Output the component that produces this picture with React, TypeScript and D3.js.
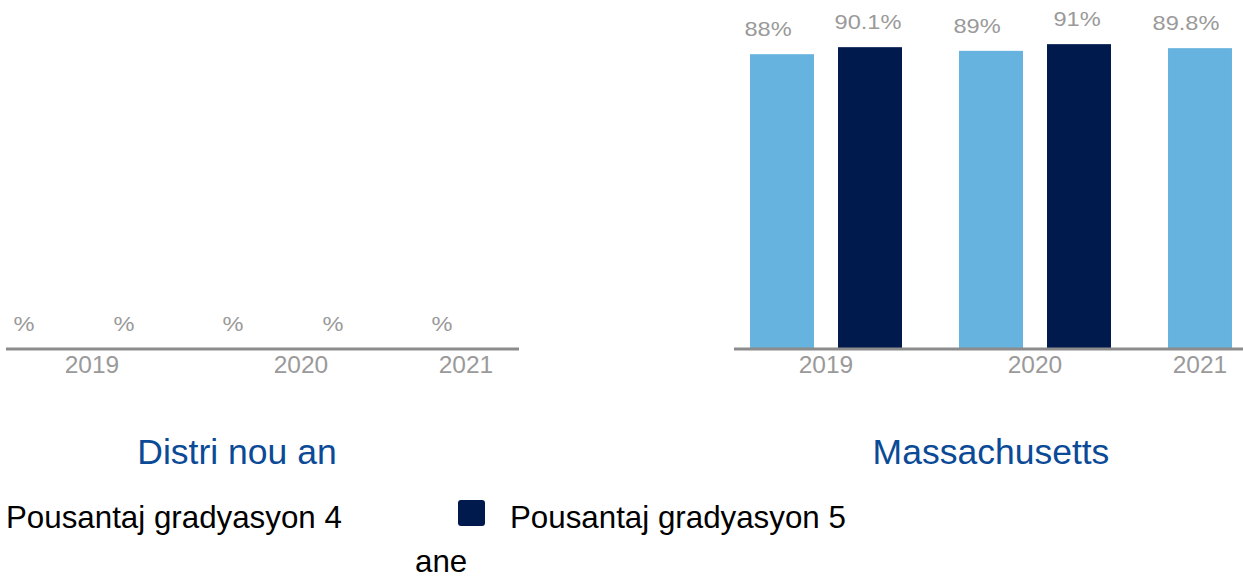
import * as d3 from "d3";

const years = ["2019", "2020", "2021"];
const seriesKeys = ["g4", "g5"];
const seriesLabels = ["Pousantaj gradyasyon 4", "Pousantaj gradyasyon 5"];
const legendTail = "ane";
const colors = ["#67b3df", "#001a4e"];

// undefined = no slot, null = value suppressed (shows "%")
const districtG4 = [null, null, null];
const districtG5 = [null, null, undefined];
const stateG4 = [88, 89, 89.8];
const stateG5 = [90.1, 91, undefined];

const panels = [
  { title: "Distri nou an", g4: districtG4, g5: districtG5, axis: [6, 519], start: -22.5, yearDx: 10, titleX: 237 },
  { title: "Massachusetts", g4: stateG4, g5: stateG5, axis: [734, 1243], start: 721.5, yearDx: 0, titleX: 991 },
];

const FONT = "'Liberation Sans', Arial, sans-serif";
const GRAY = "#9a9a9a";
const W = 1243;
const H = 584;
const baseY = 349;

const y = d3.scaleLinear().domain([0, 100]).range([baseY, 14]);
const labelDx = [-14, -2];

function Panel({ p }: { p: any }) {
  const x0 = d3.scaleBand().domain(years).range([p.start, p.start + 627]).padding(0);
  const x1 = d3
    .scaleBand()
    .domain(seriesKeys)
    .range([0, x0.bandwidth()])
    .paddingInner(0.273)
    .paddingOuter(0.324);
  const bw = x1.bandwidth();

  return (
    <g>
      {years.map((yr, i) => {
        const vals = [p.g4[i], p.g5[i]];
        const centers: number[] = [];
        const marks = vals.map((v: any, s: number) => {
          if (v === undefined) return null;
          const cx = (x0(yr) as number) + (x1(seriesKeys[s]) as number) + bw / 2;
          centers.push(cx);
          const val = v === null ? 0 : v;
          return (
            <g key={s}>
              {v !== null && (
                <rect x={cx - bw / 2} y={y(val)} width={bw} height={baseY - y(val)} fill={colors[s]} />
              )}
              <text
                transform={`translate(${cx + labelDx[s]},${y(val) - 18}) scale(1.18,1)`}
                textAnchor="middle"
                fontFamily={FONT}
                fontSize={20}
                fill={GRAY}
              >
                {v === null ? "%" : `${v}%`}
              </text>
            </g>
          );
        });
        const yearX = d3.mean(centers) as number;
        return (
          <g key={yr}>
            {marks}
            <text x={yearX + p.yearDx} y={373} textAnchor="middle" fontFamily={FONT} fontSize={24.5} fill={GRAY}>
              {yr}
            </text>
          </g>
        );
      })}
      <line x1={p.axis[0]} x2={p.axis[1]} y1={baseY} y2={baseY} stroke="#8c8c8c" strokeWidth={3} />
      <text x={p.titleX} y={464} textAnchor="middle" fontFamily={FONT} fontSize={35.5} fill="#0b4a96">
        {p.title}
      </text>
    </g>
  );
}

export default function App() {
  const legendX = [6, 510];
  return (
    <svg width={W} height={H} style={{ position: "absolute", left: 0, top: 0, background: "#fff" }}>
      {panels.map((p) => (
        <Panel key={p.title} p={p} />
      ))}
      {seriesLabels.map((lab, i) => (
        <g key={lab}>
          <rect x={legendX[i] - 52} y={500} width={27} height={26} rx={3} fill={colors[i]} />
          <text x={legendX[i]} y={528} fontFamily={FONT} fontSize={31.3} fill="#000">
            {lab}
          </text>
        </g>
      ))}
      <text x={415} y={572} fontFamily={FONT} fontSize={31.3} fill="#000">
        {legendTail}
      </text>
    </svg>
  );
}
